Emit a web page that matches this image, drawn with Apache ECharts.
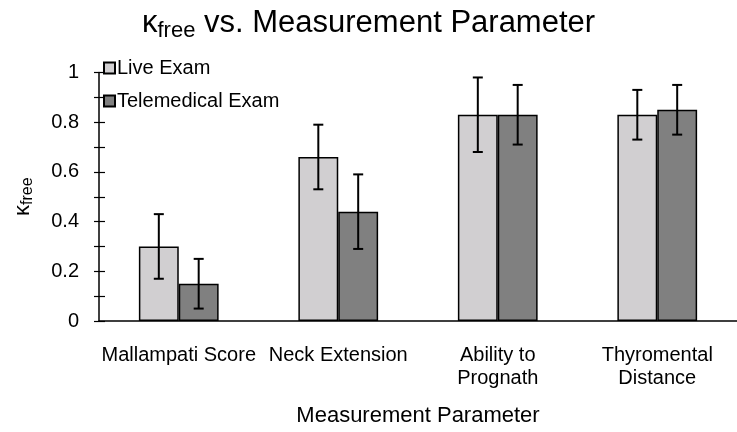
<!DOCTYPE html>
<html>
<head>
<meta charset="utf-8">
<script src="https://cdn.jsdelivr.net/npm/echarts@6/dist/echarts.min.js"></script>
<style>html,body{margin:0;padding:0;background:#fff}#c{width:737px;height:432px}</style>
</head>
<body>
<div id="c"></div>
<script>
const categories = ['Mallampati Score', 'Neck Extension', 'Ability to\nPrognath', 'Thyromental\nDistance'];
const liveValues = [0.30, 0.66, 0.83, 0.83];
const liveLow = [0.17, 0.53, 0.68, 0.73];
const liveHigh = [0.43, 0.79, 0.98, 0.93];
const teleValues = [0.15, 0.44, 0.83, 0.85];
const teleLow = [0.05, 0.29, 0.71, 0.75];
const teleHigh = [0.25, 0.59, 0.95, 0.95];
const yTicks = [0, 0.2, 0.4, 0.6, 0.8, 1];

const FONT = "'Liberation Sans', Arial, sans-serif";
const chart = echarts.init(document.getElementById('c'), null, {renderer: 'canvas'});

function errSeries(name, low, high, sign) {
  return {
    type: 'custom',
    name: name + ' err',
    z: 10,
    data: low.map((l, i) => [i, l, high[i]]),
    encode: {x: 0, y: [1, 2]},
    renderItem: function (params, api) {
      const band = api.size([1, 0])[0];
      const cx = api.coord([api.value(0), 0])[0] + sign * band / 8;
      const yl = api.coord([api.value(0), api.value(1)])[1];
      const yh = api.coord([api.value(0), api.value(2)])[1];
      const cap = 5;
      const st = {stroke: '#000', lineWidth: 2};
      return {
        type: 'group',
        children: [
          {type: 'line', shape: {x1: cx, y1: yl, x2: cx, y2: yh}, style: st},
          {type: 'line', shape: {x1: cx - cap, y1: yl, x2: cx + cap, y2: yl}, style: st},
          {type: 'line', shape: {x1: cx - cap, y1: yh, x2: cx + cap, y2: yh}, style: st}
        ]
      };
    }
  };
}

const option = {
  backgroundColor: '#fff',
  animation: false,
  title: {
    text: '{k|κ}{s|free}{t| vs. Measurement Parameter}',
    left: 142,
    top: 8,
    padding: 0,
    textStyle: {
      fontWeight: 'normal',
      rich: {
        k: {fontSize: 31, fontFamily: FONT, fontWeight: 'normal', color: '#000', lineHeight: 34, verticalAlign: 'top'},
        s: {fontSize: 22, fontFamily: FONT, fontWeight: 'normal', color: '#000', lineHeight: 22, verticalAlign: 'bottom', padding: [15, 0, 0, 0]},
        t: {fontSize: 31, fontFamily: FONT, fontWeight: 'normal', color: '#000', lineHeight: 34, verticalAlign: 'top'}
      }
    }
  },
  legend: {
    data: ['Live Exam', 'Telemedical Exam'],
    orient: 'vertical',
    left: 103,
    top: 58,
    padding: 0,
    itemWidth: 11,
    itemHeight: 11,
    itemGap: 13,
    icon: 'rect',
    textStyle: {fontSize: 20, fontFamily: FONT, color: '#000', padding: [0, 0, 0, -3]}
  },
  grid: {left: 97, right: -4, top: 72.5, bottom: 109.5, containLabel: false},
  xAxis: {
    type: 'category',
    data: categories,
    axisLine: {lineStyle: {color: '#000', width: 1.5}},
    axisTick: {show: false},
    axisLabel: {fontSize: 20, fontFamily: FONT, color: '#000', margin: 23, lineHeight: 23, interval: 0},
    name: 'Measurement Parameter',
    nameLocation: 'middle',
    nameGap: 84,
    nameTextStyle: {fontSize: 22, fontFamily: FONT, color: '#000'}
  },
  yAxis: [{
    type: 'value',
    min: 0, max: 1, interval: 0.1,
    axisLine: {show: true, lineStyle: {color: '#000', width: 1.5}},
    axisTick: {show: true, length: 5, lineStyle: {color: '#000', width: 1.2}},
    splitLine: {show: false},
    axisLabel: {
      fontSize: 20, fontFamily: FONT, color: '#000', margin: 20,
      formatter: function (v) {
        const r = Math.round(v * 10) / 10;
        const hit = yTicks.find(t => Math.abs(t - r) < 1e-9);
        return hit === undefined ? '' : String(hit);
      }
    },
    name: '{k|κ}{s|free}',
    nameLocation: 'middle',
    nameRotate: 90,
    nameGap: 63,
    nameTextStyle: {
      rich: {
        k: {fontSize: 22, fontFamily: FONT, color: '#000', lineHeight: 24, verticalAlign: 'top'},
        s: {fontSize: 16, fontFamily: FONT, color: '#000', lineHeight: 16, verticalAlign: 'bottom', padding: [12, 0, 0, 0]}
      }
    }
  }, {
    type: 'value',
    position: 'left',
    min: 0, max: 1, interval: 0.1,
    axisLine: {show: false},
    axisTick: {show: true, inside: true, length: 6, lineStyle: {color: '#000', width: 1.2}},
    axisLabel: {show: false},
    splitLine: {show: false}
  }],
  series: [
    {
      type: 'bar', name: 'Live Exam', data: liveValues,
      barGap: '0%', barCategoryGap: '50%',
      itemStyle: {color: '#d1cfd1', borderColor: '#000', borderWidth: 1.5}
    },
    {
      type: 'bar', name: 'Telemedical Exam', data: teleValues,
      barGap: '0%', barCategoryGap: '50%',
      itemStyle: {color: '#808080', borderColor: '#000', borderWidth: 1.5}
    },
    errSeries('Live Exam', liveLow, liveHigh, -1),
    errSeries('Telemedical Exam', teleLow, teleHigh, 1)
  ]
};
chart.setOption(option);
</script>
</body>
</html>
